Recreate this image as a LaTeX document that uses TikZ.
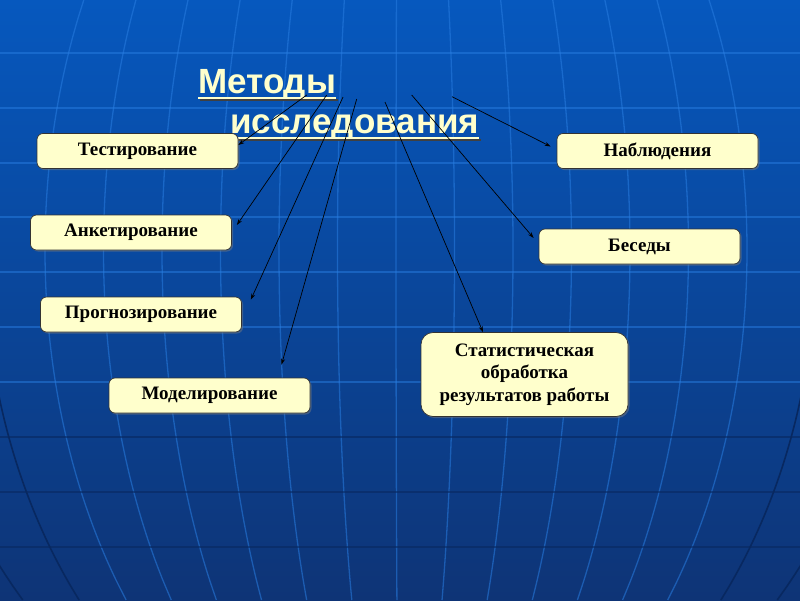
\documentclass[tikz,border=0pt]{standalone}
\usepackage{fontspec}
\setmainfont{Liberation Serif}
\newfontfamily\titlefont{Liberation Sans}
\usepackage{tikz}
\usetikzlibrary{arrows.meta, shadows}

\definecolor{bgtop}{RGB}{6,88,190}
\definecolor{bgmid}{RGB}{8,74,162}
\definecolor{bgbot}{RGB}{14,52,118}
\definecolor{boxfill}{RGB}{255,255,204}
\definecolor{titlecol}{RGB}{255,255,204}
\definecolor{gridlight}{RGB}{40,125,225}
\definecolor{griddark}{RGB}{8,40,96}

\begin{document}
\begin{tikzpicture}[x=1pt, y=-1pt,
    method/.style={draw=black!80, line width=0.7pt, rounded corners=6pt, fill=boxfill,
                   minimum width=201pt, minimum height=35pt, inner sep=2pt,
                   font=\fontsize{19}{22.5}\selectfont\bfseries,
                   drop shadow={shadow xshift=1.5pt, shadow yshift=-1.5pt, opacity=0.45}},
    ttl/.style={inner sep=0pt, anchor=base west, text=titlecol,
                font=\titlefont\fontsize{35}{40}\selectfont\bfseries},
    uline/.style={titlecol, line width=2.6pt,
                  preaction={draw=black!75, line width=2.6pt, transform canvas={shift={(2pt,-2pt)}}}},
    arr/.style={-{Stealth[length=6pt, width=4pt]}, line width=0.7pt, black},
    meridian/.style={gridlight, line width=1.3pt, opacity=0.55},
    parallel/.style={gridlight, line width=1.3pt, opacity=0.5},
    pardark/.style={griddark, line width=1.3pt, opacity=0.6},
    rim/.style={griddark, line width=1.6pt},
  ]
  % --- background: globe grid ---
  \useasboundingbox (0,0) rectangle (800,600);
  \begin{scope}
    \clip (0,0) rectangle (800,600);
    \shade[top color=bgtop, middle color=bgmid, bottom color=bgbot] (0,0) rectangle (800,600);
    \foreach \k in {-6,...,6} {
      \pgfmathsetmacro{\d}{-4+58.5*\k}
      \draw[meridian] plot[domain=0:600, samples=31, variable=\t, smooth]
        ({400+\d*sqrt(1-((\t-250)/550)*((\t-250)/550))}, \t);
    }
    \foreach \y in {53,108,163,217,272,327,382} \draw[parallel] (0,\y) -- (800,\y);
    \foreach \y in {437,492,547} \draw[pardark] (0,\y) -- (800,\y);
    \foreach \r in {416,489} {
      \draw[rim] plot[domain=300:600, samples=21, variable=\t, smooth]
        ({400-\r*sqrt(1-((\t-250)/550)*((\t-250)/550))}, \t);
      \draw[rim] plot[domain=300:600, samples=21, variable=\t, smooth]
        ({400+\r*sqrt(1-((\t-250)/550)*((\t-250)/550))}, \t);
    }
  \end{scope}

  % --- title ---
  \node[ttl] (t1) at (198,93)  {Методы};
  \node[ttl] (t2) at (230,133) {исследования};
  \draw[uline] ([yshift=-5pt]t1.base west) -- ([yshift=-5pt]t1.base east);
  \draw[uline] ([yshift=-5pt]t2.base west) -- ([yshift=-5pt]t2.base east);

  % --- methods ---
  \node[method] (test)  at (137.5,151)  {Тестирование};
  \node[method] (anket) at (131,232.5)  {Анкетирование};
  \node[method] (prog)  at (141,314.5)  {Прогнозирование};
  \node[method] (model) at (209.5,395.5) {Моделирование};
  \node[method] (nabl)  at (657.5,151)  {Наблюдения};
  \node[method] (besed) at (639.5,246.5) {Беседы};
  \node[method, minimum width=207pt, minimum height=84pt, rounded corners=12pt, align=center]
    (stat) at (524.5,374.5) {Статистическая\\обработка\\результатов работы};

  % --- arrows ---
  \coordinate (s1) at (306.7,95);
  \coordinate (s2) at (326.7,95);
  \coordinate (s3) at (343,97);
  \coordinate (s4) at (356.7,99);
  \coordinate (s5) at (385,102);
  \coordinate (s6) at (411.7,95);
  \coordinate (s7) at (452,96.7);
  \coordinate (e1) at ([yshift=6pt]test.east);
  \coordinate (e2) at ([shift={(5pt,7.5pt)}]anket.east);
  \coordinate (e3) at ([shift={(9pt,-3pt)}]prog.north east);
  \coordinate (e4) at ([shift={(72pt,13pt)}]model.north);
  \coordinate (e5) at ([xshift=-41.5pt]stat.north);
  \coordinate (e6) at ([shift={(-5pt,8.5pt)}]besed.west);
  \coordinate (e7) at ([shift={(-6pt,4.5pt)}]nabl.west);
  \foreach \i in {1,...,7} \draw[arr] (s\i) -- (e\i);
\end{tikzpicture}
\end{document}
